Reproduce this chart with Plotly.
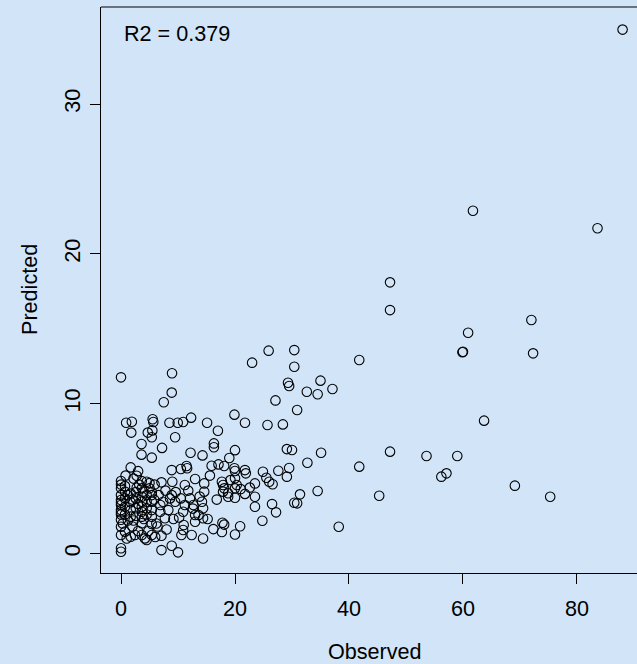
import plotly.graph_objects as go

# Observed / Predicted values
observed = [
    88.0, 61.75, 83.6, 47.2, 47.2, 72.0, 60.9, 59.9, 60.0, 72.3, 63.7, 59.0, 57.1, 56.2, 69.1, 75.3,
    53.6, 47.2, 45.3, 41.8, 41.8, 38.2, 37.1, 35.0, 34.5, 32.6, 35.1, 34.5, 32.7, 31.4, 30.4, 30.9,
    30.4, 30.4, 30.9, 29.3, 29.5, 29.1, 30.0, 29.5, 29.1, 28.4, 27.6, 27.1, 27.2, 26.5, 25.9, 25.7,
    24.9, 25.5, 26.0, 26.6, 24.8, 23.0, 23.5, 23.5, 23.5, 21.75, 21.75, 21.9, 21.75, 20.9, 20.0,
    19.9, 20.0, 19.0, 19.9, 20.0, 20.0, 20.3, 20.0, 20.0, 18.8, 18.8, 17.7, 17.9, 18.1, 17.9,
    15.9, 17.1, 18.1, 17.0, 15.1, 16.3, 16.3, 14.3, 14.6, 14.6, 14.2, 14.4, 13.6, 14.4, 13.0,
    16.2, 17.8, 18.1, 17.7, 14.4, 12.3, 12.2, 13.0, 11.2, 12.1, 12.7, 13.0, 10.5, 11.2, 10.9,
    10.5, 11.5, 11.6, 10.9, 10.6, 12.4, 8.9, 10.0, 8.95, 8.9, 7.5, 9.95, 10.9, 8.5, 9.5, 7.2,
    8.9, 9.0, 8.6, 8.9, 9.5, 8.3, 7.7, 7.1, 6.9, 6.9, 7.4, 7.1, 7.1, 5.55, 5.67, 4.7, 5.5, 5.4,
    3.6, 3.6, 5.4, 0.9, 1.9, 1.8, 0.0, 1.7, 2.75, 0.0, 0.0, 0.7, 2.75, 3.65, 4.5, 3.65, 3.9,
    5.0, 5.4, 0.0, 0.0, 0.0, 0.0, 0.7, 0.7, 1.7, 1.7, 1.7, 2.6, 2.6, 2.6, 3.65, 3.65, 3.65,
    3.65, 3.65, 3.65, 4.5, 4.5, 4.5, 5.4, 5.4, 5.4, 5.4, 5.4, 0.0, 0.0, 0.0, 0.0, 0.7, 1.7,
    2.45, 3.65, 4.2, 5.4,
    0.0, 0.0, 0.0, 0.0, 0.0, 0.3, 0.7, 0.7, 1.2, 1.2, 1.7, 2.0, 2.2, 2.6, 3.0, 3.0, 3.2, 4.0,
    4.5, 4.8, 5.0, 5.8, 6.2, 6.4, 5.9, 2.0, 1.0, 4.5, 6.0, 3.0, 2.2, 0.8, 9.6, 10.2, 11.8, 12.6,
    8.0, 7.8, 13.8, 15.2, 16.8, 19.2, 21.0, 22.6, 11.0, 9.2, 6.6, 15.6,
]
predicted = [
    34.97, 22.88, 21.71, 18.1, 16.25, 15.59, 14.74, 13.43, 13.47, 13.36, 8.87, 6.51, 5.35, 5.13, 4.53, 3.79,
    6.51, 6.8, 3.86, 12.92, 5.8, 1.79, 10.98, 11.54, 10.63, 10.8, 6.73, 4.17, 6.06, 3.95, 3.39, 3.35,
    13.58, 12.47, 9.58, 11.4, 11.18, 6.97, 6.91, 5.71, 5.13, 8.62, 5.53, 10.22, 2.75, 3.3, 13.54, 8.58,
    5.46, 5.06, 4.79, 4.62, 2.19, 12.74, 4.68, 3.79, 3.12, 8.73, 5.57, 5.35, 3.98, 1.82, 1.27,
    9.27, 6.9, 6.38, 5.69, 5.51, 5.02, 4.57, 4.35, 3.72, 4.02, 3.79, 4.79, 4.57, 4.35, 4.13,
    5.86, 5.95, 5.84, 8.2, 8.73, 7.35, 7.09, 6.55, 4.68, 4.13, 3.46, 3.02, 2.57, 2.35, 2.12,
    1.63, 2.05, 1.93, 1.44, 1.0, 9.07, 6.73, 4.97, 4.57, 3.68, 3.24, 2.57, 3.68, 3.24, 2.79,
    5.64, 5.84, 5.69, 1.57, 1.24, 1.24, 0.52, 0.08, 12.03, 10.74, 10.1, 8.73, 8.78, 8.73, 7.76, 7.05,
    5.57, 4.79, 3.68, 3.9, 3.46, 2.9, 2.35, 4.75, 3.24, 2.79, 3.46, 1.19, 0.23, 8.96, 8.78, 8.07, 8.22, 7.76,
    7.31, 6.6, 6.4, 8.73, 8.8, 8.07, 11.76, 5.75, 5.19, 4.84, 4.35, 4.13, 4.39, 4.83, 4.79, 4.35, 4.13,
    4.35, 4.09, 3.57, 3.24, 2.9, 2.61, 3.68, 3.12, 3.42, 2.9, 2.46, 3.68, 3.02, 2.52, 3.79, 3.46, 3.12,
    2.79, 2.46, 2.02, 3.9, 3.46, 3.02, 3.9, 3.46, 2.9, 2.46, 1.97, 1.79, 1.24, 0.35, 0.12, 1.46, 1.12,
    1.24, 1.24, 1.01, 1.24,
    4.6, 3.9, 3.4, 2.75, 2.25, 2.0, 2.6, 4.5, 3.9, 2.2, 4.0, 3.6, 2.2, 4.1, 3.3, 1.5, 4.6, 2.3,
    2.6, 1.5, 4.7, 3.6, 2.0, 1.8, 4.6, 1.8, 1.0, 0.9, 1.1, 5.5, 5.0, 5.2, 4.1, 2.4, 4.2, 3.0,
    1.6, 4.2, 3.8, 2.3, 3.6, 4.9, 4.3, 4.4, 1.9, 2.3, 3.9, 5.2,
]

x_ticks = [0, 20, 40, 60, 80]
y_ticks = [0, 10, 20, 30]
r2_label = "R2 = 0.379"
x_title = "Observed"
y_title = "Predicted"

BG = "#d2e5f8"
FONT = "Liberation Sans, Arial, Helvetica, sans-serif"
FS = 21.6

fig = go.Figure()
fig.add_trace(go.Scatter(
    x=observed, y=predicted, mode="markers",
    marker=dict(symbol="circle-open", size=9.5, color="black", line=dict(width=1.1, color="black")),
    hoverinfo="x+y", showlegend=False,
))

fig.update_layout(
    width=637, height=664,
    margin=dict(l=101, r=0, t=7, b=91, autoexpand=False),
    paper_bgcolor=BG, plot_bgcolor=BG,
    font=dict(family=FONT, size=FS, color="black"),
    xaxis=dict(
        range=[-3.51, 90.53], tickvals=x_ticks, ticktext=[str(v) for v in x_ticks],
        showgrid=False, zeroline=False, showline=True, linecolor="black", linewidth=1,
        ticks="outside", ticklen=10, tickwidth=1, tickcolor="black",
        tickfont=dict(family=FONT, size=FS, color="black"), ticklabelstandoff=6,
    ),
    yaxis=dict(
        range=[-1.30, 36.48], tickvals=y_ticks, ticktext=[str(v) for v in y_ticks],
        showgrid=False, zeroline=False, showline=True, linecolor="black", linewidth=1,
        ticks="outside", ticklen=10, tickwidth=1, tickcolor="black", tickangle=-90,
        tickfont=dict(family=FONT, size=FS, color="black"), ticklabelstandoff=1,
    ),
    shapes=[dict(type="line", xref="paper", yref="paper", x0=0, x1=1.02, y0=1, y1=1,
                 line=dict(color="black", width=1))],
    annotations=[
        dict(text=r2_label, xref="paper", yref="paper", x=0.0392, y=0.954,
             xanchor="left", yanchor="middle", showarrow=False,
             font=dict(family=FONT, size=FS, color="black")),
        dict(text=x_title, xref="paper", yref="paper", x=0.511, y=-0.138,
             xanchor="center", yanchor="middle", showarrow=False,
             font=dict(family=FONT, size=FS, color="black")),
        dict(text=y_title, xref="paper", yref="paper", x=-0.1343, y=0.5, textangle=-90,
             xanchor="center", yanchor="middle", showarrow=False,
             font=dict(family=FONT, size=FS, color="black")),
    ],
)

fig.write_html(
    "out.html",
    config={"displayModeBar": False},
    post_script="document.body.style.margin='0';document.body.style.background='" + BG + "';",
)
